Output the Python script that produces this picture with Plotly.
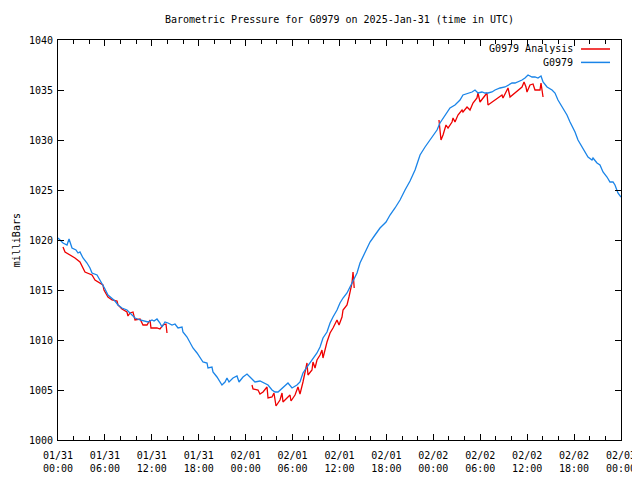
import datetime as dt
import plotly.graph_objects as go

# ---------------- data ----------------
base = dt.datetime(2025, 1, 31, 0, 0)

blue_hours = [0.00, 0.64, 1.15, 1.41, 1.79, 2.30, 2.56, 2.81, 3.20, 3.71, 4.09, 4.35, 4.99, 5.37, 5.75,
              6.01, 6.39, 6.91, 7.29, 7.67, 8.18, 8.82, 9.21, 9.59, 9.85, 10.49, 10.87, 11.51, 12.02,
              12.28, 12.66, 13.04, 13.30, 13.68, 14.07, 14.58, 14.96, 15.35, 15.86, 15.98, 16.50,
              16.88, 17.26, 17.78, 18.16, 18.54, 19.06, 19.18, 19.69, 19.82, 20.33, 20.72, 20.97,
              21.36, 21.61, 21.87, 22.38, 22.89, 23.15, 23.66, 24.17, 24.55, 25.19, 25.83, 26.47,
              26.86, 27.37, 27.75, 28.14, 28.77, 29.41, 29.93, 30.56, 30.95, 31.33, 31.84, 32.23,
              32.61, 33.12, 33.51, 33.89, 34.40, 34.79, 35.17, 35.68, 36.06, 36.45, 36.96, 37.34,
              37.73, 38.24, 38.62, 39.01, 39.52, 39.90, 40.54, 41.18, 41.95, 42.46, 43.10, 43.74,
              44.38, 45.02, 45.66, 46.30, 46.94, 47.58, 48.47, 48.85, 49.49, 50.13, 50.77, 51.41,
              51.79, 52.43, 52.95, 53.33, 53.71, 54.22, 54.61, 54.99, 55.50, 55.89, 56.53, 57.17,
              57.55, 58.06, 58.45, 58.83, 59.34, 59.72, 60.11, 60.62, 61.00, 61.38, 61.77, 62.03,
              62.54, 63.18, 63.56, 63.94, 64.58, 65.09, 65.48, 66.12, 66.50, 67.14, 67.40, 67.78,
              68.29, 68.42, 68.93, 69.31, 69.70, 70.21, 70.59, 70.98, 71.23, 71.61, 72.00]
blue_mb = [1020.2, 1019.7, 1019.5, 1020.1, 1019.2, 1019.0, 1018.7, 1018.8, 1018.2, 1017.7, 1017.2,
           1016.7, 1016.5, 1016.0, 1015.5, 1015.1, 1014.5, 1014.2, 1013.9, 1013.5, 1013.2, 1013.0,
           1012.7, 1012.4, 1012.2, 1012.0, 1011.9, 1011.8, 1012.0, 1011.9, 1012.1, 1011.7, 1011.3,
           1011.8, 1011.7, 1011.5, 1011.6, 1011.2, 1011.3, 1010.8, 1010.3, 1009.7, 1009.2, 1008.7,
           1008.3, 1007.8, 1007.7, 1007.2, 1007.3, 1006.8, 1006.3, 1005.8, 1005.5, 1005.8, 1006.2,
           1005.8, 1006.2, 1006.4, 1005.8, 1006.3, 1006.6, 1006.3, 1005.8, 1005.9, 1005.7, 1005.5,
           1005.0, 1004.8, 1004.8, 1005.2, 1005.7, 1005.2, 1005.5, 1005.8, 1006.7, 1007.3, 1007.7,
           1008.2, 1008.7, 1009.3, 1010.2, 1010.8, 1011.7, 1012.3, 1013.0, 1013.7, 1014.2, 1014.7,
           1015.3, 1016.0, 1016.7, 1017.7, 1018.3, 1019.2, 1019.8, 1020.5, 1021.2, 1021.8, 1022.5,
           1023.2, 1024.0, 1025.0, 1025.9, 1027.0, 1028.5, 1029.3, 1030.0, 1031.0, 1031.7, 1032.5,
           1033.2, 1033.5, 1034.0, 1034.5, 1034.7, 1034.8, 1035.0, 1034.7, 1034.8, 1034.7, 1034.7,
           1034.8, 1035.0, 1035.2, 1035.3, 1035.5, 1035.7, 1035.7, 1035.8, 1036.0, 1036.2, 1036.5,
           1036.3, 1036.3, 1036.2, 1036.4, 1035.8, 1035.3, 1035.0, 1034.7, 1034.0, 1033.2, 1032.5,
           1031.8, 1030.8, 1030.0, 1029.1, 1028.7, 1028.3, 1028.0, 1028.2, 1027.7, 1027.5, 1026.8,
           1026.3, 1025.8, 1025.8, 1025.5, 1024.7, 1024.3]

red1_hours = [0.64, 0.90, 2.17, 2.81, 3.45, 3.71, 4.35, 4.73, 5.37, 5.75, 5.88, 6.39, 6.91, 7.55,
              7.67, 8.18, 8.82, 8.95, 9.21, 9.59, 9.85, 10.49, 10.87, 11.38, 11.77, 11.89, 12.66,
              13.04, 13.43, 13.81, 13.94]
red1_mb = [1019.3, 1018.8, 1018.2, 1017.8, 1016.8, 1016.7, 1016.5, 1016.0, 1015.7, 1015.5, 1015.0,
           1014.3, 1014.0, 1013.9, 1013.5, 1013.1, 1012.8, 1012.4, 1012.7, 1012.8, 1012.0, 1012.1,
           1011.5, 1011.5, 1012.0, 1011.2, 1011.2, 1011.1, 1011.5, 1011.6, 1010.7]

red2_hours = [24.81, 24.94, 25.58, 25.83, 26.22, 26.73, 26.86, 27.37, 27.62, 27.88, 28.39, 28.65,
              28.77, 29.29, 29.67, 29.80, 30.31, 30.69, 30.95, 31.33, 31.59, 31.84, 31.97, 32.48,
              32.61, 32.87, 33.12, 33.51, 33.76, 33.89, 34.40, 34.79, 35.17, 35.68, 35.94, 36.32,
              36.45, 36.96, 37.21, 37.60, 37.73, 37.85, 37.88]
red2_mb = [1005.5, 1005.1, 1005.0, 1004.6, 1004.8, 1005.3, 1004.2, 1004.3, 1004.7, 1003.4, 1004.0,
           1004.7, 1003.8, 1004.2, 1004.5, 1003.9, 1004.5, 1005.3, 1004.6, 1005.8, 1006.7, 1007.7,
           1006.5, 1007.0, 1007.8, 1007.2, 1008.0, 1008.5, 1009.0, 1008.2, 1009.8, 1010.7, 1011.2,
           1012.0, 1011.5, 1012.3, 1013.0, 1013.5, 1014.3, 1015.7, 1016.8, 1016.0, 1015.2]

red3_hours = [48.72, 48.98, 49.24, 49.62, 49.88, 50.39, 50.52, 50.77, 51.15, 51.67, 51.79, 52.31,
              52.69, 53.07, 53.58, 53.71, 53.97, 54.35, 54.86, 54.99, 55.50, 55.89, 56.27, 56.78,
              56.91, 57.55, 57.81, 58.45, 58.83, 59.34, 59.60, 59.85, 59.98, 60.36, 60.75, 61.00,
              61.64, 61.77, 61.90, 62.03]
red3_mb = [1032.0, 1030.0, 1030.5, 1031.5, 1031.2, 1031.8, 1032.2, 1031.8, 1032.5, 1033.0, 1032.8,
           1033.3, 1033.0, 1033.7, 1034.2, 1034.7, 1033.8, 1034.2, 1034.7, 1033.5, 1033.8, 1034.0,
           1034.2, 1034.5, 1034.2, 1035.2, 1034.3, 1034.7, 1035.0, 1035.3, 1035.8, 1035.3, 1034.8,
           1035.5, 1035.6, 1035.0, 1035.0, 1035.7, 1035.0, 1034.3]

tick_hours = [0, 6, 12, 18, 24, 30, 36, 42, 48, 54, 60, 66, 72]
tick_labels = ["01/31<br>00:00", "01/31<br>06:00", "01/31<br>12:00", "01/31<br>18:00",
               "02/01<br>00:00", "02/01<br>06:00", "02/01<br>12:00", "02/01<br>18:00",
               "02/02<br>00:00", "02/02<br>06:00", "02/02<br>12:00", "02/02<br>18:00",
               "02/03<br>00:00"]

title_text = "Barometric Pressure for G0979 on 2025-Jan-31 (time in UTC)"
name_red = "G0979 Analysis"
name_blue = "G0979"

# ---------------- build ----------------
def to_time(hours):
    return [base + dt.timedelta(hours=h) for h in hours]

red_x, red_y = [], []
for hs, ms in [(red1_hours, red1_mb), (red2_hours, red2_mb), (red3_hours, red3_mb)]:
    if red_x:
        red_x.append(None)
        red_y.append(None)
    red_x += to_time(hs)
    red_y += ms

RED = "#ee0000"
BLUE = "#1a84e8"
FONT = "DejaVu Sans Mono"
FS = 10

# the page body adds an 8px offset; size the figure to compensate
W, H = 632, 472

fig = go.Figure()
fig.add_trace(go.Scatter(x=red_x, y=red_y, mode="lines", name=name_red,
                         line=dict(color=RED, width=1.3), connectgaps=False, showlegend=False))
fig.add_trace(go.Scatter(x=to_time(blue_hours), y=blue_mb, mode="lines", name=name_blue,
                         line=dict(color=BLUE, width=1.3), showlegend=False))

# gnuplot-like legend: text right-aligned, sample to the right
legend_items = [(name_red, RED, 0.9775), (name_blue, BLUE, 0.9440)]
for text, col, yy in legend_items:
    fig.add_annotation(text=text, xref="paper", yref="paper", x=0.919, y=yy,
                       xanchor="right", yanchor="middle", showarrow=False,
                       font=dict(family=FONT, size=FS, color="black"))
    fig.add_shape(type="line", xref="paper", yref="paper", x0=0.929, x1=0.9805, y0=yy, y1=yy,
                  line=dict(color=col, width=1.5))

fig.add_annotation(text="milliBars", xref="paper", yref="paper", x=-0.0875, y=0.5,
                   textangle=-90, showarrow=False, xanchor="left", yanchor="middle",
                   font=dict(family=FONT, size=FS, color="black"))

fig.update_layout(
    width=W, height=H,
    margin=dict(l=50, r=19, t=32, b=40, autoexpand=False),
    paper_bgcolor="white", plot_bgcolor="white",
    font=dict(family=FONT, size=FS, color="black"),
    title=dict(text=title_text, x=0.5, xref="paper", xanchor="center",
               yref="container", y=1 - 11 / H, yanchor="middle",
               font=dict(family=FONT, size=FS, color="black")),
    showlegend=False,
)
fig.update_xaxes(
    range=[base, base + dt.timedelta(hours=72)],
    tickvals=to_time(tick_hours), ticktext=tick_labels,
    ticks="inside", ticklen=6, tickcolor="black", tickwidth=1,
    showline=True, linecolor="black", linewidth=1, mirror="allticks",
    showgrid=False, zeroline=False, automargin=False, ticklabelstandoff=6,
    minor=dict(dtick=2 * 3600 * 1000, ticks="inside", ticklen=4, tickcolor="black", showgrid=False),
    tickfont=dict(family=FONT, size=FS),
)
fig.update_yaxes(
    range=[1000, 1040], dtick=5, tick0=1000,
    ticks="inside", ticklen=6, tickcolor="black", tickwidth=1,
    showline=True, linecolor="black", linewidth=1, mirror="allticks",
    showgrid=False, zeroline=False, automargin=False, ticklabelstandoff=2,
    tickfont=dict(family=FONT, size=FS),
)

fig.write_html("out.html")
